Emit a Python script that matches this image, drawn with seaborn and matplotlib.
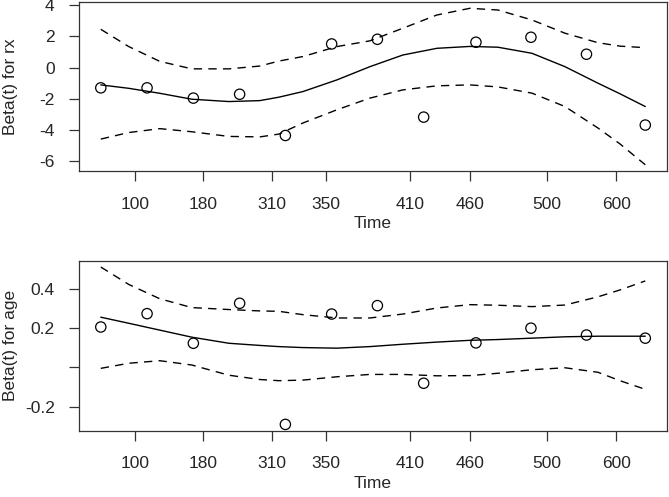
import numpy as np
import pandas as pd
import matplotlib
matplotlib.use("Agg")
import matplotlib.pyplot as plt
import seaborn as sns

# Time on the transformed (KM) scale, with the real times as tick labels
tick_pos = [0.0625, 0.1875, 0.314, 0.414, 0.568, 0.678, 0.820, 0.947]
tick_lab = ["100", "180", "310", "350", "410", "460", "500", "600"]

# scaled Schoenfeld residuals
time_pts = [0.0, 0.085, 0.170, 0.255, 0.339, 0.424, 0.508, 0.593, 0.689, 0.790, 0.892, 1.0]
resid_rx = [-1.30, -1.30, -1.96, -1.71, -4.36, 1.52, 1.82, -3.18, 1.63, 1.95, 0.86, -3.69]
resid_age = [0.206, 0.274, 0.123, 0.327, -0.291, 0.272, 0.315, -0.081, 0.125, 0.200, 0.165, 0.149]

# smooth fit and confidence band
time_fit = [0.0, 0.0514, 0.1084, 0.1672, 0.2352, 0.2921, 0.3270, 0.3711, 0.4336, 0.4942,
            0.5548, 0.6173, 0.6779, 0.7294, 0.7919, 0.8525, 0.9131, 0.9535, 1.0]
fit_rx = [-1.11, -1.33, -1.65, -2.03, -2.18, -2.12, -1.90, -1.54, -0.79, 0.06,
          0.81, 1.24, 1.36, 1.31, 0.92, 0.06, -1.00, -1.68, -2.50]
upper_rx = [2.46, 1.35, 0.40, -0.08, -0.08, 0.10, 0.42, 0.71, 1.35, 1.72,
            2.53, 3.38, 3.81, 3.70, 3.06, 2.21, 1.60, 1.38, 1.28]
lower_rx = [-4.59, -4.17, -3.92, -4.12, -4.42, -4.45, -4.27, -3.56, -2.71, -1.96,
            -1.43, -1.17, -1.11, -1.24, -1.64, -2.50, -3.88, -4.90, -6.24]
fit_age = [0.256, 0.225, 0.190, 0.154, 0.123, 0.112, 0.106, 0.101, 0.098, 0.106,
           0.118, 0.129, 0.138, 0.142, 0.149, 0.156, 0.159, 0.159, 0.159]
upper_age = [0.512, 0.423, 0.350, 0.305, 0.295, 0.288, 0.286, 0.269, 0.252, 0.252,
             0.272, 0.303, 0.320, 0.317, 0.310, 0.318, 0.360, 0.395, 0.441]
lower_age = [-0.005, 0.021, 0.034, 0.012, -0.040, -0.062, -0.068, -0.065, -0.048, -0.036,
             -0.036, -0.043, -0.042, -0.030, -0.012, -0.002, -0.025, -0.068, -0.112]

sns.set_style("white")
plt.rcParams['font.family'] = ['Liberation Sans', 'DejaVu Sans']


def draw_panel(ax, resid, fit, upper, lower, ylabel, yticks, ylabels):
    pts = pd.DataFrame({'time': time_pts, 'beta': resid})
    curve = pd.DataFrame({'time': time_fit, 'fit': fit, 'upper': upper, 'lower': lower})

    sns.scatterplot(data=pts, x='time', y='beta', ax=ax, marker='o', s=55,
                    facecolor='none', edgecolor='black', linewidth=0.9)
    sns.lineplot(data=curve, x='time', y='fit', ax=ax, color='black', linewidth=1.0)
    for col in ['upper', 'lower']:
        sns.lineplot(data=curve, x='time', y=col, ax=ax, color='black',
                     linewidth=1.0).lines[-1].set_dashes([6, 4.5])

    # R style 4% padding
    xs = np.array(time_pts)
    ax.set_xlim(xs.min() - 0.04 * np.ptp(xs), xs.max() + 0.04 * np.ptp(xs))
    ys = np.concatenate([resid, upper, lower])
    ax.set_ylim(ys.min() - 0.04 * np.ptp(ys), ys.max() + 0.04 * np.ptp(ys))

    ax.set_xticks(tick_pos)
    ax.set_xticklabels(tick_lab)
    ax.set_yticks(yticks)
    ax.set_yticklabels(ylabels)
    ax.tick_params(axis='both', direction='out', length=7.5, width=0.9,
                   labelsize=12.5, color='#333333', bottom=True, left=True)
    ax.tick_params(axis='x', pad=11)
    ax.tick_params(axis='y', pad=10)
    ax.set_xlabel('Time', fontsize=12.5, labelpad=3)
    ax.set_ylabel(ylabel, fontsize=12.5)
    ax.yaxis.set_label_coords(-0.104, 0.5)
    for sp in ax.spines.values():
        sp.set_visible(True)
        sp.set_color('#333333')
        sp.set_linewidth(0.9)


fig = plt.figure(figsize=(6.69, 4.97), dpi=100)
ax1 = fig.add_axes([0.1181, 0.6559, 0.879, 0.340])
ax2 = fig.add_axes([0.1181, 0.1334, 0.879, 0.342])

draw_panel(ax1, resid_rx, fit_rx, upper_rx, lower_rx, 'Beta(t) for rx',
           [4, 2, 0, -2, -4, -6], ['4', '2', '0', '-2', '-4', '-6'])
draw_panel(ax2, resid_age, fit_age, upper_age, lower_age, 'Beta(t) for age',
           [0.4, 0.2, 0.0, -0.2], ['0.4', '0.2', '', '-0.2'])

fig.savefig('out.png', dpi=100)
